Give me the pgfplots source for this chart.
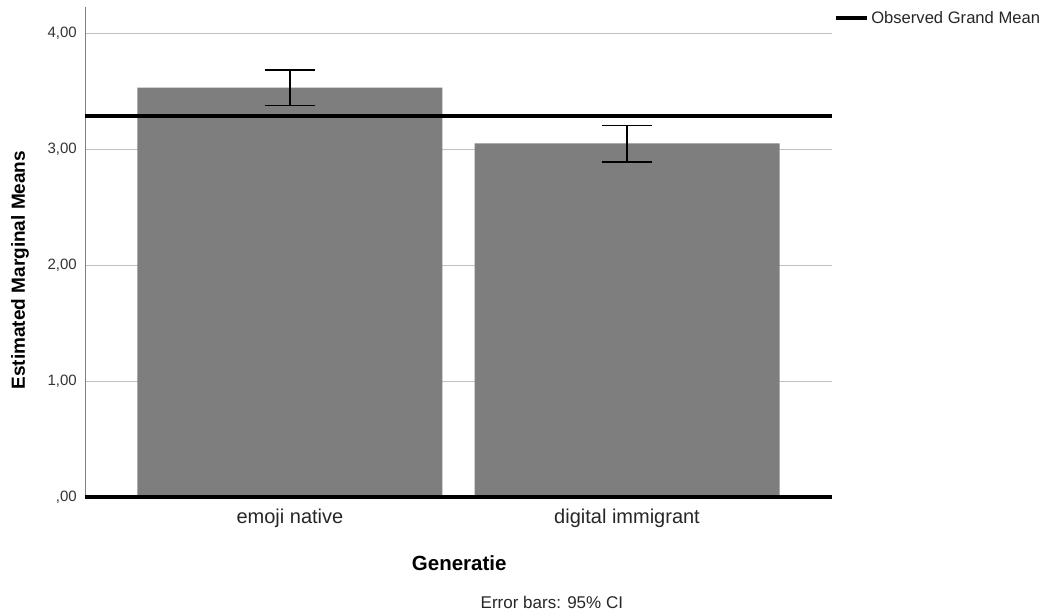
\documentclass[border=0pt]{standalone}
\usepackage{fontspec}
\setmainfont{Liberation Sans}
\usepackage{pgfplots}
\pgfplotsset{compat=1.18}
\definecolor{barfill}{RGB}{126,126,126}
\definecolor{gridc}{RGB}{192,192,192}
\begin{document}
\begin{tikzpicture}
\useasboundingbox (0,0) rectangle (1046pt,613pt);
\begin{axis}[
  at={(85pt,116pt)}, anchor=south west,
  scale only axis,
  width=747pt, height=490pt,
  xmin=-0.608, xmax=1.608,
  ymin=0, ymax=4.2241,
  clip=false,
  axis x line=bottom,
  x axis line style={-, draw=none},
  axis y line=left,
  y axis line style={-, draw=gray, line width=0.8pt},
  xtick={0,1},
  xticklabels={emoji native, digital immigrant},
  ytick={0,1,2,3,4},
  yticklabels={{,00},{1,00},{2,00},{3,00},{4,00}},
  major tick length=0pt,
  ymajorgrids,
  grid style={draw=gridc, line width=0.9pt},
  yticklabel style={font=\fontsize{15}{17}\selectfont, inner sep=0pt, xshift=-8pt, text=black!80},
  xticklabel style={font=\fontsize{20}{24}\selectfont, inner sep=0pt, yshift=-12pt, text=black!85},
  xlabel={Generatie},
  xlabel style={font=\bfseries\fontsize{20.5}{24}\selectfont, at={(axis description cs:0.501,-0.1347)}, anchor=center},
  ylabel={Estimated Marginal Means},
  ylabel style={font=\bfseries\fontsize{19}{22}\selectfont, at={(axis description cs:-0.087,0.463)}, anchor=center, rotate=0},
  legend style={at={(axis description cs:1.003,0.9776)}, anchor=west, draw=none, fill=none,
    inner sep=0pt, outer sep=0pt, font=\fontsize{16.6}{20}\selectfont, text=black!85,
    /tikz/every even column/.append style={column sep=0pt}},
  legend image code/.code={\draw[line width=4pt, black] (0pt,0pt) -- (31pt,0pt);},
  legend cell align=left,
]
\addplot[ybar, bar width=305pt, fill=barfill, draw=none, forget plot,
  error bars/.cd, y dir=both, y explicit,
  error bar style={draw=black, line width=1.3pt},
  error mark options={rotate=90, mark size=25pt, line width=1.3pt, draw=black}]
  coordinates {
    (0,3.528) += (0,0.153) -= (0,0.155)
    (1,3.049) += (0,0.152) -= (0,0.161)
  };
\addplot[black, line width=4pt, no marks] coordinates {(-0.608,3.287) (1.608,3.287)};
\addlegendentry{Observed Grand Mean}
\addplot[black, line width=4pt, no marks, forget plot] coordinates {(-0.608,0) (1.608,0)};
\node[font=\fontsize{17}{20}\selectfont, text=black!85] at (axis description cs:0.625,-0.216) {Error bars: 95\% CI};
\end{axis}
\end{tikzpicture}
\end{document}
